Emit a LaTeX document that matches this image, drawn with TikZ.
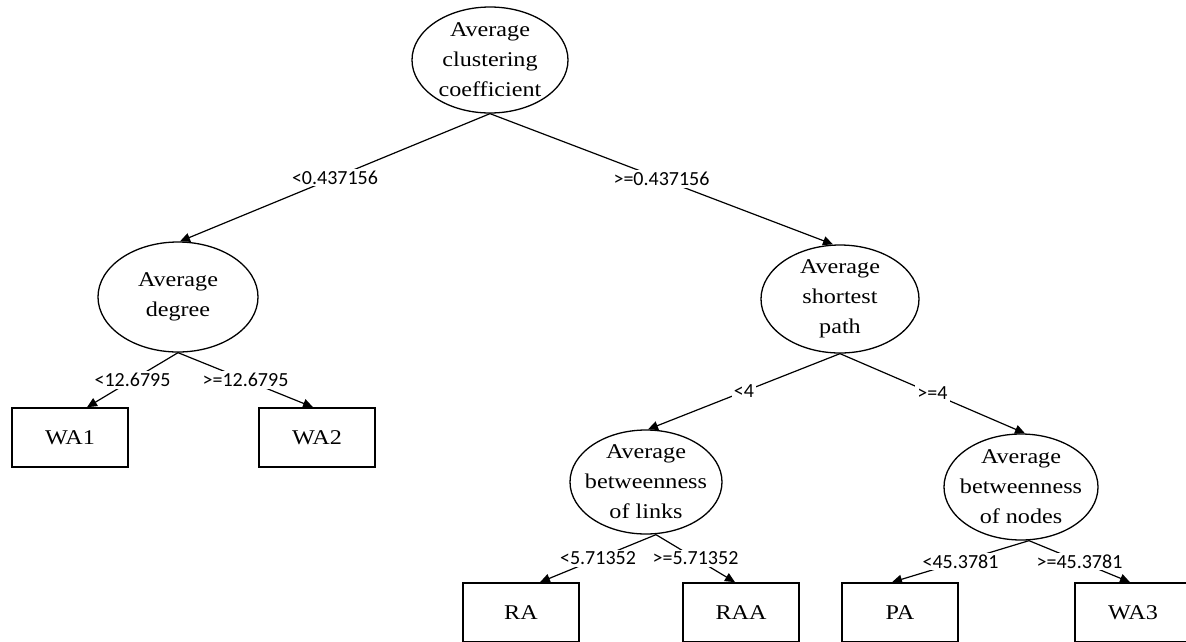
\documentclass[tikz,border=0pt]{standalone}
\usepackage{fontspec}
\setmainfont{Liberation Serif}
\newfontfamily\lblfont{Carlito}
\newfontfamily\nodefont[FakeStretch=1.15]{Liberation Serif}
\usetikzlibrary{shapes.geometric,arrows.meta}
\begin{document}
\begin{tikzpicture}[x=1pt,y=-1pt,
  every node/.style={inner sep=0pt},
  oval/.style={draw, ellipse, line width=1.3pt, inner xsep=-20pt, inner ysep=-12pt,
    font=\nodefont\fontsize{21}{30}\selectfont, align=center},
  leaf/.style={draw, rectangle, line width=1.6pt, minimum width=116pt, minimum height=59pt,
    font=\nodefont\fontsize{21}{30}\selectfont},
  edge/.style={line width=1.2pt, -{Triangle[length=10pt,width=9pt]}},
  lbl/.style={fill=white, font=\lblfont\fontsize{20}{22}\selectfont, inner sep=2pt}]
\useasboundingbox (0,0) rectangle (1186,641);
% internal nodes
\node[oval, minimum width=156pt, minimum height=106pt] (root) at (490,60) {Average\\clustering\\coefficient};
\node[oval, minimum width=160pt, minimum height=110pt] (deg) at (178,297) {Average\\degree};
\node[oval, minimum width=158pt, minimum height=108pt] (sp) at (840,299) {Average\\shortest\\path};
\node[oval, minimum width=152pt, minimum height=104pt] (links) at (646,482) {Average\\betweenness\\of links};
\node[oval, minimum width=154pt, minimum height=106pt] (nodes) at (1021,487) {Average\\betweenness\\of nodes};
% leaves
\node[leaf] (wa1) at (70,437.5) {WA1};
\node[leaf] (wa2) at (317,437.5) {WA2};
\node[leaf] (ra) at (521,612.5) {RA};
\node[leaf] (raa) at (741,612.5) {RAA};
\node[leaf] (pa) at (900,612.5) {PA};
\node[leaf] (wa3) at (1133,612.5) {WA3};
% edges
\draw[edge] (root.south) -- node[lbl]{<0.437156} ([xshift=2pt]deg.north);
\draw[edge] (root.south) -- node[lbl]{>=0.437156} ([xshift=-7pt]sp.north);
\draw[edge] (deg.south) -- node[lbl]{<12.6795} ([xshift=17pt]wa1.north);
\draw[edge] (deg.south) -- node[lbl]{>=12.6795} ([xshift=-4pt]wa2.north);
\draw[edge] (sp.south) -- node[lbl]{<4} ([xshift=2pt]links.north);
\draw[edge] (sp.south) -- node[lbl]{>=4} ([xshift=4pt]nodes.north);
\draw[edge] ([xshift=10pt]links.south) -- node[lbl]{<5.71352} ([xshift=19pt]ra.north);
\draw[edge] ([xshift=10pt]links.south) -- node[lbl]{>=5.71352} ([xshift=-6pt]raa.north);
\draw[edge] ([xshift=8pt]nodes.south) -- node[lbl]{<45.3781} ([xshift=-8pt]pa.north);
\draw[edge] ([xshift=8pt]nodes.south) -- node[lbl]{>=45.3781} ([xshift=-3pt]wa3.north);
\end{tikzpicture}
\end{document}
